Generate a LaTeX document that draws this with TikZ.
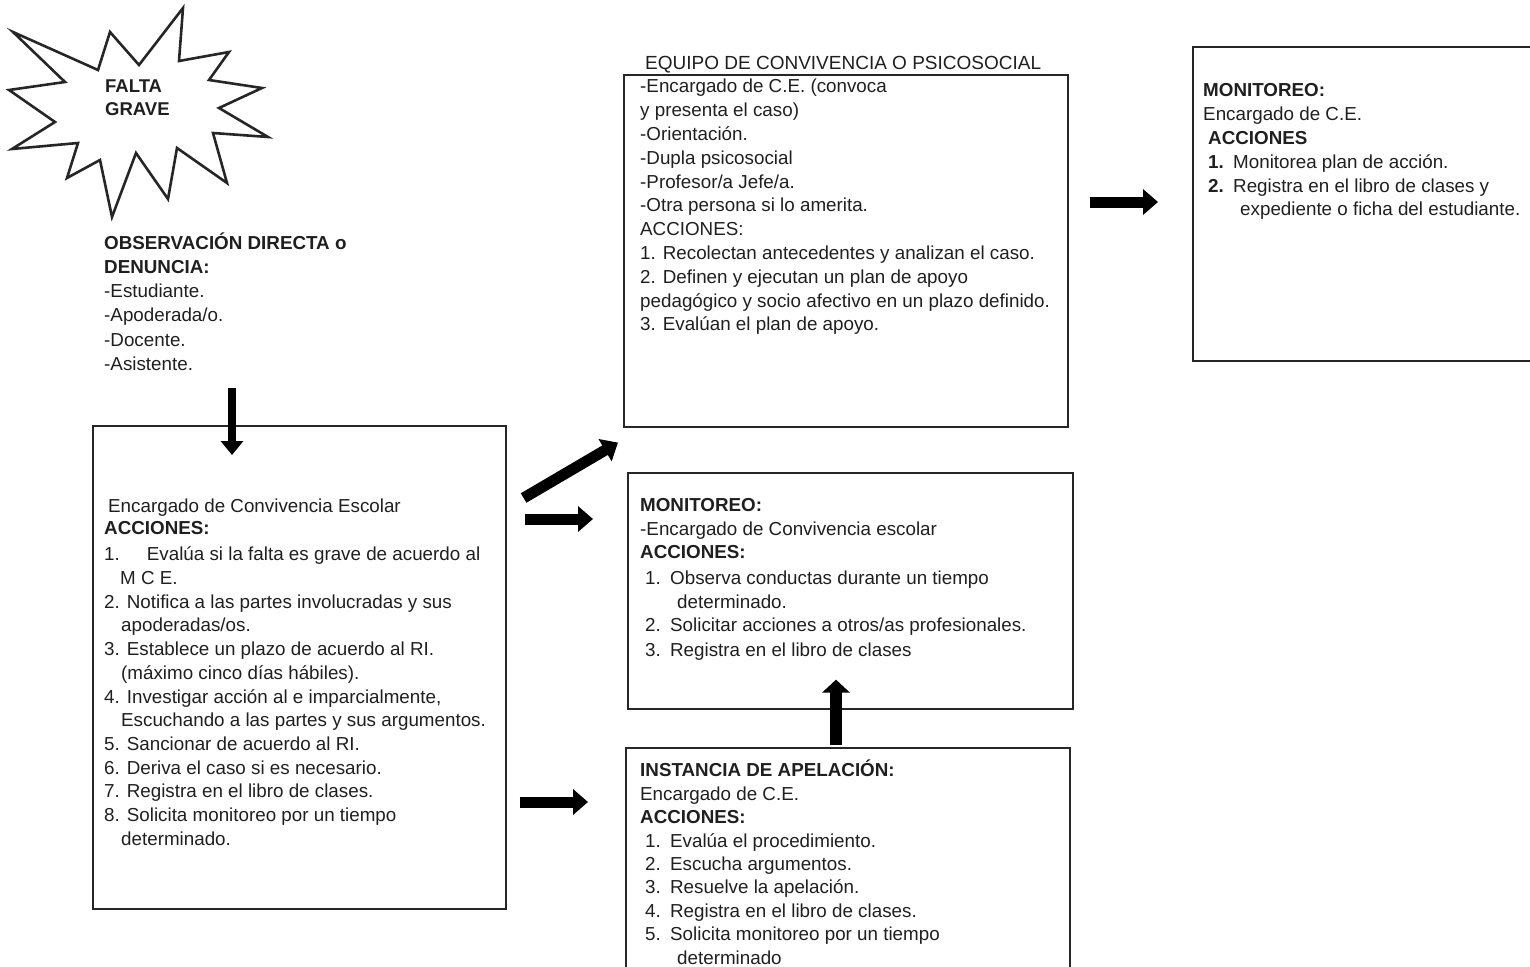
\documentclass[tikz,border=0pt]{standalone}
\usepackage{fontspec}
\setmainfont{Liberation Sans}
\usetikzlibrary{arrows.meta,positioning,calc}

\begin{document}
\begin{tikzpicture}[x=1pt, y=-1pt,
  frame/.style={draw=black!85, line width=1.6pt, inner sep=0pt, anchor=north west},
  txt/.style={anchor=north west, inner sep=0pt, align=left, text=black!88,
    font=\fontsize{18.8}{23.7}\selectfont, execute at begin node=\strut},
  burst/.style={draw=black!85, line width=2.6pt, line join=miter},
  blockarr/.style={line width=11pt, -{Triangle[length=15pt,width=25pt]}},
  thinarr/.style={line width=8pt, -{Triangle[length=14pt,width=22pt]}},
  widearr/.style={line width=12pt, -{Triangle[length=13pt,width=27pt]}}
]
  \useasboundingbox (0,0) rectangle (1530,966);

  % starburst
  \draw[burst] (13,32) -- (98,70) -- (110,32) -- (139,65) -- (183,8) -- (179,61)
    -- (229,52) -- (209,80) -- (262,88) -- (219,108) -- (268,137) -- (213,133)
    -- (227,183) -- (177,148) -- (168,199) -- (136,153) -- (112,217) -- (100,160)
    -- (67,178) -- (78,143) -- (12,149) -- (55,122) -- (9,90) -- (65,82) -- cycle;
  \node[txt, font=\bfseries\fontsize{18.5}{23}\selectfont] (falta) at (105,80) {FALTA\\GRAVE};

  \node[txt, font=\fontsize{18.8}{24.2}\selectfont] (obs) at (104,232.5)
    {\textbf{OBSERVACIÓN DIRECTA o}\\ \textbf{DENUNCIA:}\\ -Estudiante.\\ -Apoderada/o.\\ -Docente.\\ -Asistente.};

  % boxes
  \node[frame, minimum width=413pt, minimum height=483pt] (ce) at (92,425) {};
  \node[frame, minimum width=444pt, minimum height=352pt] (equipo) at (623,74) {};
  \node[frame, minimum width=445pt, minimum height=236pt] (moncen) at (627,472) {};
  \node[frame, minimum width=444pt, minimum height=240pt] (apel) at (625,747) {};
  \node[frame, minimum width=350pt, minimum height=314pt] (monder) at (1192,46) {};

  \node[txt] (cetxt) at (104,499)
    {\hspace*{4pt}Encargado de Convivencia Escolar\\[-1.7pt]
     \textbf{ACCIONES:}\\[2.3pt]
     1.\hspace*{27pt}Evalúa si la falta es grave de acuerdo al\\
     \hspace*{16pt}M C E.\\
     2. Notifica a las partes involucradas y sus\\
     \hspace*{17pt}apoderadas/os.\\
     3. Establece un plazo de acuerdo al RI.\\
     \hspace*{17pt}(máximo cinco días hábiles).\\
     4. Investigar acción al e imparcialmente,\\
     \hspace*{17pt}Escuchando a las partes y sus argumentos.\\
     5. Sancionar  de acuerdo al RI.\\
     6. Deriva el caso si es necesario.\\
     7. Registra en el libro de clases.\\
     8. Solicita monitoreo por un tiempo\\
     \hspace*{17pt}determinado.};

  \node[txt, font=\fontsize{19}{23.8}\selectfont] (eqtit) at (645,53) {EQUIPO DE CONVIVENCIA O PSICOSOCIAL};
  \node[txt, font=\fontsize{18.8}{23.8}\selectfont] (eqtxt) at (640,79)
    {-Encargado de C.E. (convoca\\ y presenta el caso)\\ -Orientación.\\ -Dupla psicosocial\\
     -Profesor/a Jefe/a.\\ -Otra persona si lo amerita.\\ ACCIONES:\\
     1. Recolectan antecedentes y analizan el caso.\\ 2. Definen y ejecutan un plan de apoyo\\
     pedagógico y socio afectivo en un plazo definido.\\ 3. Evalúan el plan de apoyo.};

  \node[txt, font=\fontsize{18.8}{23.2}\selectfont] (montxt) at (640,498.5)
    {\textbf{MONITOREO:}\\ -Encargado de Convivencia escolar\\ \textbf{ACCIONES:}\\[3.4pt]
     \hspace*{5pt}1.\hspace*{9.3pt}Observa conductas durante un tiempo\\
     \hspace*{37pt}determinado.\\
     \hspace*{5pt}2.\hspace*{9.3pt}Solicitar acciones a otros/as profesionales.\\[2.4pt]
     \hspace*{5pt}3.\hspace*{9.3pt}Registra en el libro de clases};

  \node[txt, font=\fontsize{18.8}{23.4}\selectfont] (apeltxt) at (640,760)
    {\textbf{INSTANCIA DE APELACIÓN:}\\ Encargado de C.E.\\ \textbf{ACCIONES:}\\
     \hspace*{5pt}1.\hspace*{9.3pt}Evalúa el procedimiento.\\
     \hspace*{5pt}2.\hspace*{9.3pt}Escucha argumentos.\\
     \hspace*{5pt}3.\hspace*{9.3pt}Resuelve la apelación.\\
     \hspace*{5pt}4.\hspace*{9.3pt}Registra en el libro de clases.\\
     \hspace*{5pt}5.\hspace*{9.3pt}Solicita monitoreo por un tiempo\\
     \hspace*{37pt}determinado};

  \node[txt, font=\fontsize{18.8}{23.8}\selectfont] (mondtxt) at (1203,83.5)
    {\textbf{MONITOREO:}\\ Encargado de C.E.\\ \hspace*{5pt}\textbf{ACCIONES}\\
     \hspace*{5pt}\textbf{1.}\hspace*{9.3pt}Monitorea plan de acción.\\
     \hspace*{5pt}\textbf{2.}\hspace*{9.3pt}Registra en el libro de clases y\\
     \hspace*{37pt}expediente o ficha del estudiante.};

  % arrows
  \draw[thinarr] ($(ce.north west)+(140,-37)$) -- ($(ce.north west)+(140,30)$);
  \draw[blockarr] ($(ce.north east)+(17,73)$) -- ($(equipo.south west)+(-5,15)$);
  \draw[blockarr] ($(ce.north east)+(18,94)$) -- ($(moncen.north west)+(-34,47)$);
  \draw[blockarr] ($(ce.north east)+(13,377)$) -- ($(apel.north west)+(-37,55)$);
  \draw[widearr] ($(apel.north west)+(211,-2)$) -- ($(moncen.south west)+(209,-30)$);
  \draw[blockarr] ($(equipo.north east)+(21,128)$) -- ($(monder.north west)+(-34,156)$);
\end{tikzpicture}
\end{document}
